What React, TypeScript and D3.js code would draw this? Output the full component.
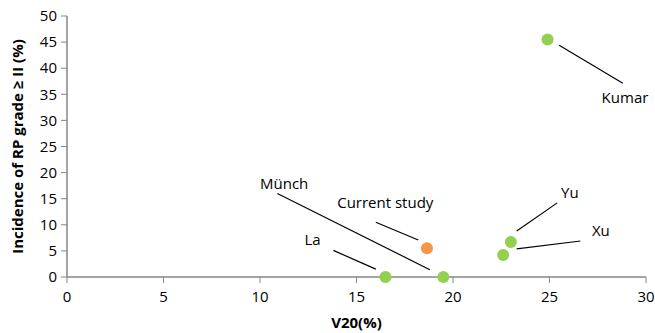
import React from "react";
import * as d3 from "d3";

const studies = ["La", "Münch", "Current study", "Xu", "Yu", "Kumar"];
const v20 = [16.5, 19.5, 18.65, 22.6, 23.0, 24.9];
const incidence = [0, 0, 5.5, 4.2, 6.7, 45.5];
const isCurrent = [false, false, true, false, false, false];
const xTicks = [0, 5, 10, 15, 20, 25, 30];
const yTicks = [0, 5, 10, 15, 20, 25, 30, 35, 40, 45, 50];

// label anchor (text start) and leader line ends, in data units
const labelX = [12.3, 10.0, 14.0, 27.2, 25.6, 27.7];
const labelY = [6.1, 16.9, 13.2, 7.8, 15.1, 33.4];
const lineX1 = [13.8, 10.9, 16.0, 26.6, 25.4, 28.8];
const lineY1 = [5.1, 16.0, 10.5, 6.9, 14.2, 37.1];
const lineX2 = [16.0, 18.8, 18.2, 23.3, 23.3, 25.5];
const lineY2 = [1.5, 1.4, 7.1, 5.4, 8.8, 44.4];

const W = 655;
const H = 333;
const font = "'Open Sans', 'Liberation Sans', sans-serif";
const fs = 15;

export default function App() {
  const x = d3.scaleLinear().domain([0, 30]).range([67, 646]);
  const y = d3.scaleLinear().domain([0, 50]).range([277, 16]);
  const axisColor = "#868686";
  return (
    <svg width={W} height={H} style={{ position: "absolute", left: 0, top: 0 }} fontFamily={font}>
      <rect width={W} height={H} fill="#fff" />
      {/* y axis */}
      <line x1={x(0)} x2={x(0)} y1={y(50)} y2={y(0)} stroke={axisColor} strokeWidth={1.5} />
      {yTicks.map((t) => (
        <g key={"y" + t}>
          <line x1={x(0) - 6} x2={x(0)} y1={y(t)} y2={y(t)} stroke={axisColor} strokeWidth={1} />
          <text x={x(0) - 10} y={y(t)} dy="0.35em" textAnchor="end" fontSize={fs} fill="#000">
            {t}
          </text>
        </g>
      ))}
      {/* x axis */}
      <line x1={x(0)} x2={x(30)} y1={y(0)} y2={y(0)} stroke={axisColor} strokeWidth={1.5} />
      {xTicks.map((t) => (
        <g key={"x" + t}>
          <line x1={x(t)} x2={x(t)} y1={y(0)} y2={y(0) + 6} stroke={axisColor} strokeWidth={1} />
          <text x={x(t)} y={y(0) + 25} textAnchor="middle" fontSize={fs} fill="#000">
            {t}
          </text>
        </g>
      ))}
      <text x={(x(0) + x(30)) / 2} y={328} textAnchor="middle" fontSize={fs} fontWeight="bold">
        V20(%)
      </text>
      <text
        transform={`translate(23,${(y(0) + y(50)) / 2}) rotate(-90)`}
        textAnchor="middle"
        fontSize={fs}
        fontWeight="bold"
      >
        Incidence of RP grade ≥ II (%)
      </text>
      {/* leader lines */}
      {studies.map((s, i) => (
        <line
          key={"l" + s}
          x1={x(lineX1[i])}
          y1={y(lineY1[i])}
          x2={x(lineX2[i])}
          y2={y(lineY2[i])}
          stroke="#000"
          strokeWidth={1.2}
        />
      ))}
      {/* points */}
      {studies.map((s, i) => (
        <circle key={"p" + s} cx={x(v20[i])} cy={y(incidence[i])} r={6} fill={isCurrent[i] ? "#F79646" : "#92D050"} />
      ))}
      {/* labels */}
      {studies.map((s, i) => (
        <text key={"t" + s} x={x(labelX[i])} y={y(labelY[i])} fontSize={fs} fill="#000">
          {s}
        </text>
      ))}
    </svg>
  );
}
